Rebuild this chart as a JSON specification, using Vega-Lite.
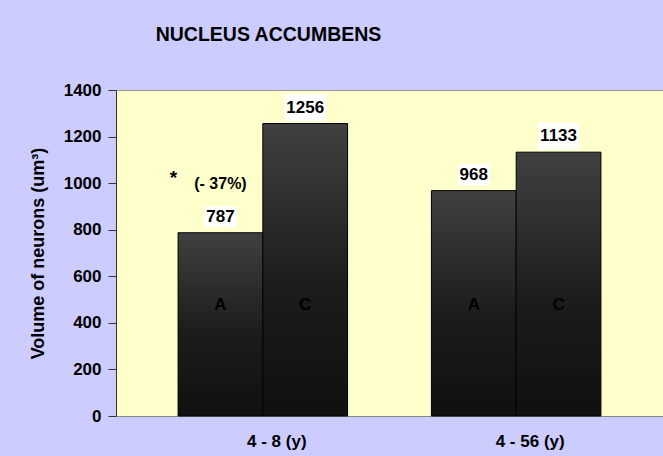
{
  "$schema": "https://vega.github.io/schema/vega-lite/v6.json",
  "width": 547,
  "height": 326,
  "autosize": {"type": "none"},
  "padding": {"left": 116, "top": 90, "right": 0, "bottom": 40},
  "background": "#ccccff",
  "title": {
    "text": "NUCLEUS  ACCUMBENS",
    "frame": "group",
    "anchor": "middle",
    "dx": -121,
    "offset": 21,
    "baseline": "alphabetic",
    "font": "Liberation Sans",
    "fontSize": 19.5,
    "fontWeight": "bold",
    "color": "black"
  },
  "config": {
    "view": {"fill": "#ffffcc", "stroke": "#999999", "strokeWidth": 1},
    "font": "Liberation Sans"
  },
  "datasets": {
    "bars": [
      {"age": "4 - 8 (y)", "group": "A", "value": 787},
      {"age": "4 - 8 (y)", "group": "C", "value": 1256},
      {"age": "4 - 56 (y)", "group": "A", "value": 968},
      {"age": "4 - 56 (y)", "group": "C", "value": 1133}
    ],
    "notes": [
      {"age": "4 - 8 (y)", "group": "A", "note": "(- 37%)", "star": "*"}
    ]
  },
  "encoding": {
    "x": {
      "field": "age",
      "type": "nominal",
      "sort": ["4 - 8 (y)", "4 - 56 (y)"],
      "scale": {"paddingInner": 0.331, "paddingOuter": 0.245},
      "axis": {
        "title": null,
        "labelAngle": 0,
        "ticks": false,
        "domainColor": "#888888",
        "labelFont": "Liberation Sans",
        "labelFontSize": 17,
        "labelFontWeight": "bold",
        "labelColor": "black",
        "labelPadding": 17,
        "labelOffset": 14
      }
    },
    "xOffset": {
      "field": "group",
      "type": "nominal",
      "sort": ["A", "C"],
      "scale": {"paddingInner": 0, "paddingOuter": 0}
    }
  },
  "layer": [
    {
      "data": {"name": "bars"},
      "mark": {
        "type": "bar",
        "stroke": "#000000",
        "strokeWidth": 1,
        "color": {
          "gradient": "linear",
          "x1": 0, "y1": 0, "x2": 0, "y2": 1,
          "stops": [
            {"offset": 0, "color": "#404040"},
            {"offset": 0.55, "color": "#1c1c1c"},
            {"offset": 1, "color": "#101010"}
          ]
        }
      },
      "encoding": {
        "y": {
          "field": "value",
          "type": "quantitative",
          "scale": {"domain": [0, 1400], "nice": false},
          "axis": {
            "title": "Volume of neurons (um³)",
            "titleFont": "Liberation Sans",
            "titleFontSize": 18,
            "titleFontWeight": "bold",
            "titleColor": "black",
            "titlePadding": 16,
            "values": [0, 200, 400, 600, 800, 1000, 1200, 1400],
            "format": "d",
            "grid": false,
            "tickSize": 8,
            "tickColor": "#333333",
            "domainColor": "#333333",
            "labelFont": "Liberation Sans",
            "labelFontSize": 17,
            "labelFontWeight": "bold",
            "labelColor": "black",
            "labelPadding": 7
          }
        }
      }
    },
    {
      "data": {"name": "bars"},
      "mark": {"type": "point", "filled": true, "color": "white", "opacity": 1, "strokeWidth": 0, "shape": "M-1,-0.66H1V0.66H-1Z", "yOffset": -16},
      "encoding": {
        "y": {"field": "value", "type": "quantitative"},
        "size": {"condition": {"test": "datum.value >= 1000", "value": 1681}, "value": 1024}
      }
    },
    {
      "data": {"name": "bars"},
      "mark": {"type": "text", "baseline": "bottom", "dy": -7, "fontSize": 17, "fontWeight": "bold", "color": "black"},
      "encoding": {
        "y": {"field": "value", "type": "quantitative"},
        "text": {"field": "value", "type": "quantitative"}
      }
    },
    {
      "data": {"name": "bars"},
      "mark": {"type": "text", "baseline": "middle", "fontSize": 17, "fontWeight": "bold", "color": "black"},
      "encoding": {
        "y": {"datum": 476, "type": "quantitative"},
        "text": {"field": "group", "type": "nominal"}
      }
    },
    {
      "data": {"name": "notes"},
      "mark": {"type": "text", "baseline": "middle", "fontSize": 16, "fontWeight": "bold", "color": "black"},
      "encoding": {
        "y": {"datum": 995, "type": "quantitative"},
        "text": {"field": "note", "type": "nominal"}
      }
    },
    {
      "data": {"name": "notes"},
      "mark": {"type": "text", "baseline": "middle", "dx": -47, "fontSize": 19, "fontWeight": "bold", "color": "black"},
      "encoding": {
        "y": {"datum": 1020, "type": "quantitative"},
        "text": {"field": "star", "type": "nominal"}
      }
    }
  ]
}
